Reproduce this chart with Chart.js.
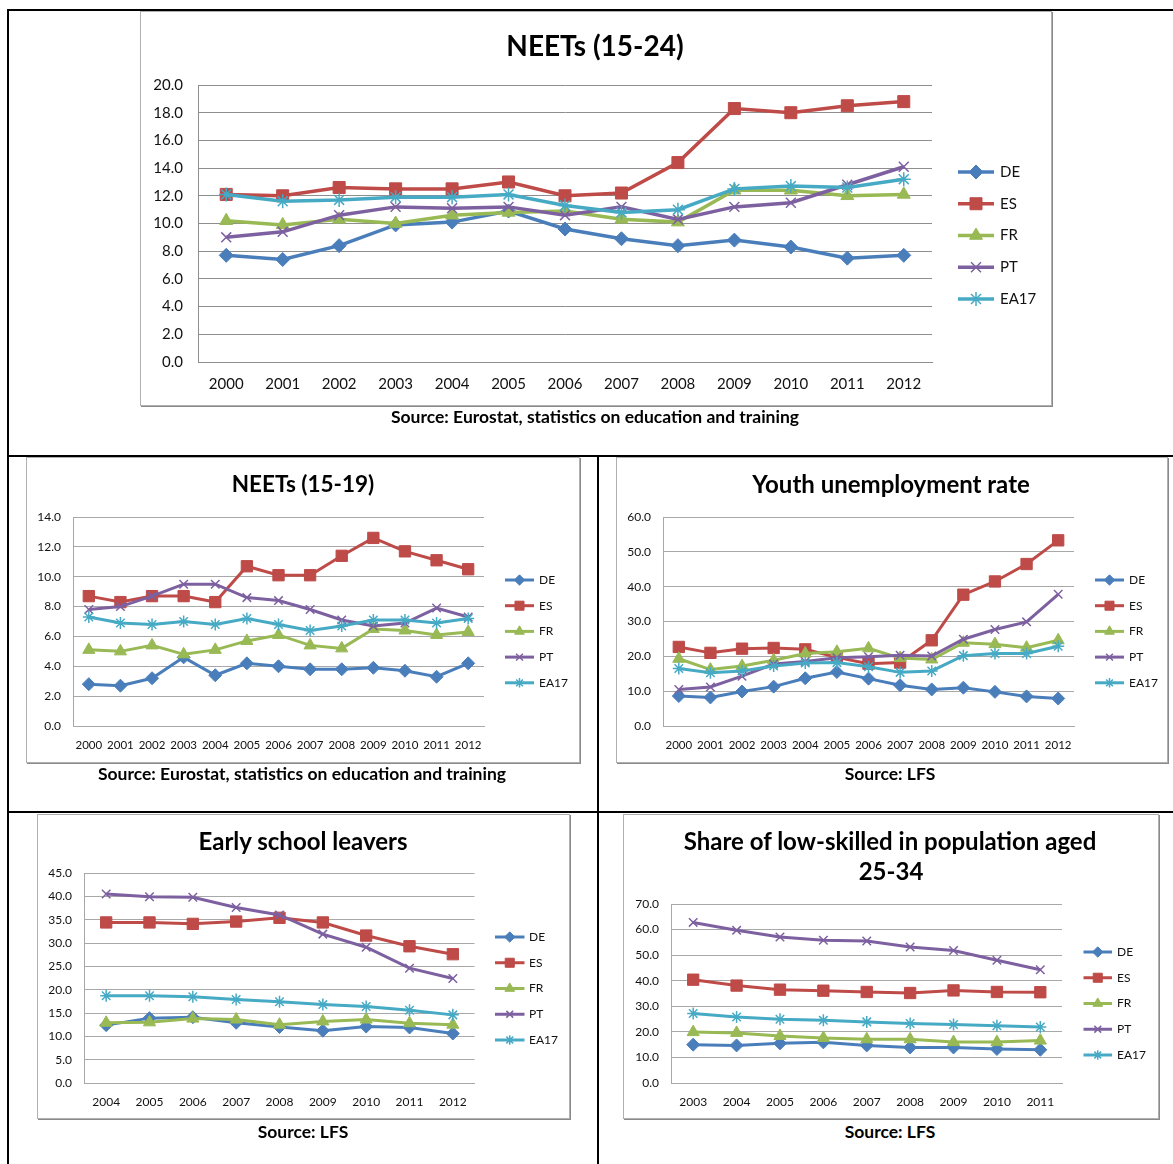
<!DOCTYPE html>
<html>
<head>
<meta charset="utf-8">
<script src="https://cdn.jsdelivr.net/npm/chart.js@4.4.1/dist/chart.umd.min.js"></script>
<style>
  html,body{margin:0;padding:0;background:#fff;}
  #page{position:relative;width:1173px;height:1164px;overflow:hidden;font-family:Lato,"Open Sans",sans-serif;color:#000;}
  .tl{position:absolute;background:#000;}
  .frame{position:absolute;box-sizing:border-box;border:1px solid #b0b0b0;box-shadow:1px 1px 0 #8a8a8a;pointer-events:none;}
  .wrap{position:absolute;}
  .title{position:absolute;transform:translate(-50%,-50%);font-weight:bold;white-space:nowrap;line-height:1;text-align:center;}
  .src{position:absolute;transform:translate(-50%,-50%);font-weight:bold;font-size:17.5px;white-space:nowrap;line-height:1;}
</style>
</head>
<body>
<div id="page">
  <!-- table lines -->
  <div class="tl" style="left:7px;top:9px;width:1166px;height:2px;"></div>
  <div class="tl" style="left:7px;top:9px;width:2px;height:1155px;"></div>
  <div class="tl" style="left:7px;top:455px;width:1166px;height:2px;"></div>
  <div class="tl" style="left:597px;top:455px;width:2px;height:709px;"></div>
  <div class="tl" style="left:7px;top:811px;width:1166px;height:2px;"></div>

  <div class="wrap" style="left:140px;top:11px;width:911px;height:394px;"><canvas id="c1" width="911" height="394"></canvas></div>
  <div class="frame" style="left:140px;top:11px;width:912px;height:395px;"></div>
  <div class="title" style="left:595px;top:45px;font-size:28px;">NEETs (15-24)</div>
  <div class="src" style="left:595px;top:417px;">Source: Eurostat, statistics on education and training</div>

  <div class="wrap" style="left:26px;top:457px;width:553px;height:305px;"><canvas id="c2" width="553" height="305"></canvas></div>
  <div class="frame" style="left:26px;top:457px;width:554px;height:306px;"></div>
  <div class="title" style="left:303px;top:484px;font-size:22.5px;">NEETs (15-19)</div>
  <div class="src" style="left:302px;top:774px;">Source: Eurostat, statistics on education and training</div>

  <div class="wrap" style="left:616px;top:457px;width:551px;height:305px;"><canvas id="c3" width="551" height="305"></canvas></div>
  <div class="frame" style="left:616px;top:457px;width:552px;height:306px;"></div>
  <div class="title" style="left:891px;top:484px;font-size:24px;">Youth unemployment rate</div>
  <div class="src" style="left:890px;top:774px;">Source: LFS</div>

  <div class="wrap" style="left:37px;top:814px;width:532px;height:304px;"><canvas id="c4" width="532" height="304"></canvas></div>
  <div class="frame" style="left:37px;top:814px;width:533px;height:305px;"></div>
  <div class="title" style="left:303px;top:841px;font-size:24px;">Early school leavers</div>
  <div class="src" style="left:303px;top:1132px;">Source: LFS</div>

  <div class="wrap" style="left:623px;top:814px;width:535px;height:304px;"><canvas id="c5" width="535" height="304"></canvas></div>
  <div class="frame" style="left:623px;top:814px;width:536px;height:305px;"></div>
  <div class="title" style="left:890px;top:841px;font-size:24px;">Share of low-skilled in population aged</div>
  <div class="title" style="left:891px;top:871px;font-size:24px;">25-34</div>
  <div class="src" style="left:890px;top:1132px;">Source: LFS</div>
</div>

<script>
// ---------- DATA ----------
const seriesNames = ["DE", "ES", "FR", "PT", "EA17"];
const years2000 = ["2000","2001","2002","2003","2004","2005","2006","2007","2008","2009","2010","2011","2012"];
const years2004 = ["2004","2005","2006","2007","2008","2009","2010","2011","2012"];
const years2003 = ["2003","2004","2005","2006","2007","2008","2009","2010","2011"];

// NEETs (15-24)
const neet24DE   = [7.7, 7.4, 8.4, 9.9, 10.1, 10.9, 9.6, 8.9, 8.4, 8.8, 8.3, 7.5, 7.7];
const neet24ES   = [12.1, 12.0, 12.6, 12.5, 12.5, 13.0, 12.0, 12.2, 14.4, 18.3, 18.0, 18.5, 18.8];
const neet24FR   = [10.2, 9.9, 10.3, 10.0, 10.6, 10.8, 10.9, 10.3, 10.1, 12.4, 12.4, 12.0, 12.1];
const neet24PT   = [9.0, 9.4, 10.6, 11.2, 11.1, 11.2, 10.6, 11.2, 10.3, 11.2, 11.5, 12.8, 14.1];
const neet24EA17 = [12.1, 11.6, 11.7, 11.9, 11.9, 12.1, 11.3, 10.8, 11.0, 12.5, 12.7, 12.6, 13.2];

// NEETs (15-19)
const neet19DE   = [2.8, 2.7, 3.2, 4.6, 3.4, 4.2, 4.0, 3.8, 3.8, 3.9, 3.7, 3.3, 4.2];
const neet19ES   = [8.7, 8.3, 8.7, 8.7, 8.3, 10.7, 10.1, 10.1, 11.4, 12.6, 11.7, 11.1, 10.5];
const neet19FR   = [5.1, 5.0, 5.4, 4.8, 5.1, 5.7, 6.1, 5.4, 5.2, 6.5, 6.4, 6.1, 6.3];
const neet19PT   = [7.8, 8.0, 8.7, 9.5, 9.5, 8.6, 8.4, 7.8, 7.1, 6.7, 6.9, 7.9, 7.3];
const neet19EA17 = [7.3, 6.9, 6.8, 7.0, 6.8, 7.2, 6.8, 6.4, 6.7, 7.1, 7.1, 6.9, 7.2];

// Youth unemployment rate
const youthDE   = [8.6, 8.2, 9.9, 11.3, 13.7, 15.5, 13.6, 11.7, 10.5, 11.0, 9.8, 8.5, 7.9];
const youthES   = [22.7, 21.0, 22.2, 22.4, 22.0, 19.7, 17.9, 18.2, 24.6, 37.7, 41.5, 46.5, 53.3];
const youthFR   = [19.3, 16.2, 17.2, 18.9, 20.8, 21.3, 22.3, 19.5, 19.1, 23.9, 23.5, 22.5, 24.6];
const youthPT   = [10.5, 11.2, 14.3, 17.8, 18.5, 19.6, 19.9, 20.3, 20.1, 24.9, 27.7, 29.9, 37.8];
const youthEA17 = [16.5, 15.3, 15.8, 17.2, 18.1, 18.2, 17.0, 15.4, 15.8, 20.2, 20.8, 20.8, 22.9];

// Early school leavers
const eslDE   = [12.4, 13.9, 14.1, 12.9, 12.0, 11.2, 12.1, 11.9, 10.6];
const eslES   = [34.4, 34.4, 34.1, 34.6, 35.4, 34.4, 31.6, 29.3, 27.6];
const eslFR   = [12.9, 13.0, 13.8, 13.6, 12.5, 13.2, 13.6, 12.8, 12.5];
const eslPT   = [40.5, 39.9, 39.8, 37.6, 36.0, 31.9, 29.1, 24.6, 22.4];
const eslEA17 = [18.7, 18.7, 18.5, 17.9, 17.4, 16.8, 16.4, 15.6, 14.6];

// Share of low-skilled in population aged 25-34
const lowDE   = [15.0, 14.7, 15.5, 15.9, 14.7, 13.9, 13.9, 13.3, 13.0];
const lowES   = [40.4, 38.1, 36.5, 36.1, 35.6, 35.2, 36.2, 35.6, 35.5];
const lowFR   = [19.9, 19.6, 18.4, 17.6, 17.1, 17.1, 16.0, 16.0, 16.6];
const lowPT   = [62.8, 59.7, 57.1, 55.8, 55.5, 53.2, 51.8, 48.0, 44.3];
const lowEA17 = [27.2, 25.8, 24.9, 24.5, 23.9, 23.3, 22.9, 22.4, 21.9];

// ---------- STYLE ----------
const colors = ["#4A7EBB", "#BE4B48", "#98B954", "#7D60A0", "#46AAC5"];
const markers = ["rectRot", "rect", "triangle", "crossRot", "star"];
const FONT = "Lato, 'Open Sans', sans-serif";

const lineLegend = {
  id: 'lineLegend',
  afterDraw(chart, args, o) {
    if (!o || o.x0 === undefined) return;
    const ctx = chart.ctx;
    ctx.save();
    chart.data.datasets.forEach((ds, i) => {
      const y = o.y + i * o.gap;
      ctx.strokeStyle = ds.borderColor;
      ctx.lineWidth = ds.borderWidth;
      ctx.lineCap = 'butt';
      ctx.beginPath(); ctx.moveTo(o.x0, y); ctx.lineTo(o.x1, y); ctx.stroke();
      ctx.fillStyle = ds.pointBackgroundColor;
      ctx.strokeStyle = ds.pointBorderColor;
      ctx.lineWidth = ds.pointBorderWidth;
      Chart.helpers.drawPoint(ctx, {pointStyle: ds.pointStyle, radius: ds.pointRadius * o.ms, rotation: 0, borderWidth: ds.pointBorderWidth}, (o.x0 + o.x1) / 2, y);
      ctx.fillStyle = '#111';
      ctx.font = o.font;
      ctx.textBaseline = 'middle';
      ctx.textAlign = 'left';
      ctx.fillText(ds.label, o.tx, y);
    });
    ctx.restore();
  }
};

function makeDatasets(values, big) {
  const lw = big ? 3.5 : 3;
  const radii = big ? [7, 8.5, 7.5, 7, 7] : [6.5, 8, 7, 6, 6];
  return values.map((v, i) => ({
    label: seriesNames[i],
    data: v,
    borderColor: colors[i],
    backgroundColor: colors[i],
    borderWidth: lw,
    pointStyle: markers[i],
    pointRadius: radii[i],
    pointBackgroundColor: colors[i],
    pointBorderColor: colors[i],
    pointBorderWidth: (i >= 3) ? 1.5 : 1,
    tension: 0,
    fill: false,
    order: 5 - i
  }));
}

function makeChart(id, labels, values, cfg) {
  const W = cfg.W, H = cfg.H;
  const xH = 30;
  new Chart(document.getElementById(id), {
    type: 'line',
    data: { labels: labels, datasets: makeDatasets(values, cfg.big) },
    options: {
      responsive: false,
      animation: false,
      devicePixelRatio: 1,
      layout: { padding: { left: 4, top: cfg.T, right: W - cfg.R, bottom: H - cfg.B - xH } },
      plugins: {
        legend: { display: false },
        title: { display: false },
        tooltip: { enabled: false },
        lineLegend: cfg.legend
      },
      scales: {
        x: {
          type: 'category',
          offset: true,
          grid: { display: false, drawTicks: false },
          border: { display: true, color: cfg.gridColor, width: 1 },
          ticks: { color: '#111', font: { family: FONT, size: cfg.xTickSize }, padding: cfg.xPad, maxRotation: 0, autoSkip: false },
          afterFit: s => { s.height = xH; }
        },
        y: {
          min: 0, max: cfg.max,
          ticks: { stepSize: cfg.step, color: '#111', font: { family: FONT, size: cfg.yTickSize }, padding: cfg.yPad,
                   callback: v => Number(v).toFixed(1) },
          grid: { color: cfg.gridColor, lineWidth: 1, drawTicks: false },
          border: { display: true, color: cfg.gridColor, width: 1 },
          afterFit: s => { s.width = cfg.L - 4; }
        }
      }
    },
    plugins: [lineLegend]
  });
}

makeChart('c1', years2000, [neet24DE, neet24ES, neet24FR, neet24PT, neet24EA17], {
  W: 911, H: 394, L: 58, T: 74, R: 792, B: 351, max: 20, step: 2, big: true,
  xTickSize: 15, yTickSize: 15, xPad: 13, yPad: 15, gridColor: '#8e8e8e',
  legend: { x0: 818, x1: 854, tx: 860, y: 161, gap: 31.75, ms: 1, font: "15px " + FONT }
});
makeChart('c2', years2000, [neet19DE, neet19ES, neet19FR, neet19PT, neet19EA17], {
  W: 553, H: 305, L: 47, T: 60, R: 458, B: 269, max: 14, step: 2, big: false,
  xTickSize: 11.5, yTickSize: 12, xPad: 12, yPad: 12, gridColor: '#a8a8a8',
  legend: { x0: 479, x1: 508, tx: 513, y: 123, gap: 25.7, ms: 0.8, font: "12px " + FONT }
});
makeChart('c3', years2000, [youthDE, youthES, youthFR, youthPT, youthEA17], {
  W: 551, H: 305, L: 47, T: 60, R: 458, B: 269, max: 60, step: 10, big: false,
  xTickSize: 11.5, yTickSize: 12, xPad: 12, yPad: 12, gridColor: '#a8a8a8',
  legend: { x0: 479, x1: 508, tx: 513, y: 123, gap: 25.7, ms: 0.8, font: "12px " + FONT }
});
makeChart('c4', years2004, [eslDE, eslES, eslFR, eslPT, eslEA17], {
  W: 532, H: 304, L: 47.5, T: 59, R: 437.5, B: 269, max: 45, step: 5, big: false,
  xTickSize: 12, yTickSize: 12, xPad: 12, yPad: 12.5, gridColor: '#a8a8a8',
  legend: { x0: 458, x1: 487.5, tx: 492, y: 123, gap: 25.75, ms: 0.8, font: "12px " + FONT }
});
makeChart('c5', years2003, [lowDE, lowES, lowFR, lowPT, lowEA17], {
  W: 535, H: 304, L: 48.5, T: 90, R: 439, B: 269, max: 70, step: 10, big: false,
  xTickSize: 12, yTickSize: 12, xPad: 12, yPad: 12.5, gridColor: '#a8a8a8',
  legend: { x0: 460.5, x1: 489, tx: 494, y: 138, gap: 25.75, ms: 0.8, font: "12px " + FONT }
});
</script>
</body>
</html>
